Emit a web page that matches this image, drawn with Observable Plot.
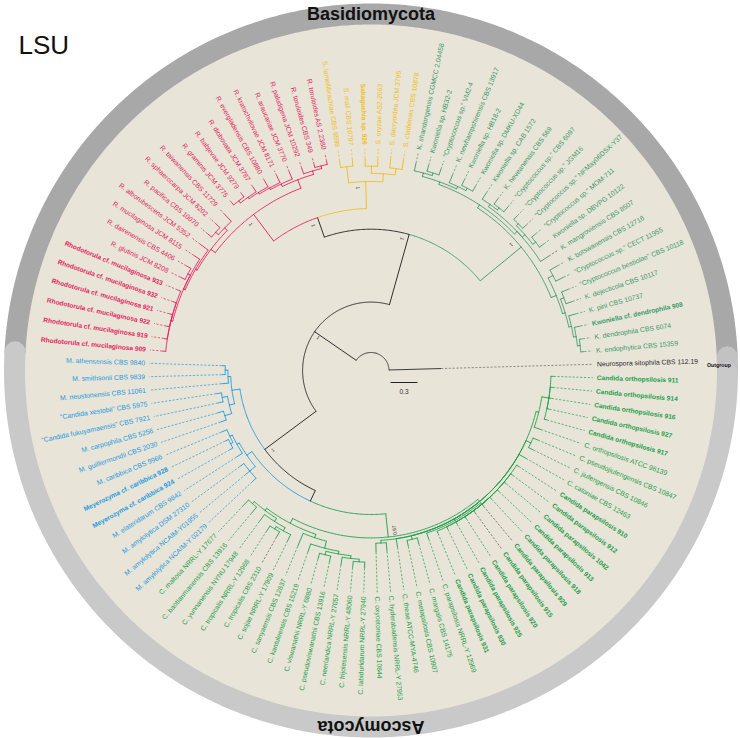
<!DOCTYPE html>
<html>
<head>
<meta charset="utf-8">
<script src="https://cdn.jsdelivr.net/npm/d3@7"></script>
<script src="https://cdn.jsdelivr.net/npm/@observablehq/plot@0.6"></script>
<style>
  html, body { margin: 0; padding: 0; background: #ffffff; }
  #chart { width: 740px; height: 738px; overflow: hidden; }
</style>
</head>
<body>
<div id="chart"></div>
<script>
// ---------------- DATA ----------------
// Leaf labels, in clockwise order starting just below the outgroup ("*" = own isolate, shown bold)
const outgroupLeaves = ["Neurospora sitophila CBS 112.19"];
const candidaLeaves = [
  "*Candida orthopsilosis 911", "*Candida orthopsilosis 914", "*Candida orthopsilosis 916",
  "*Candida orthopsilosis 927", "*Candida orthopsilosis 917", "C. orthopsilosis ATCC 96139",
  "C. pseudojiufengensis CBS 10847", "C. jiufengensis CBS 10846", "C. catoniae CBS 12463",
  "*Candida parapsilosis 910", "*Candida parapsilosis 912", "*Candida parapsilosis 1042",
  "*Candida parapsilosis 913", "*Candida parapsilosis 918", "*Candida parapsilosis 929",
  "*Candida parapsilosis 915", "*Candida parapsilosis 920", "*Candida parapsilosis 925",
  "*Candida parapsilosis 930", "*Candida parapsilosis 931", "C. parapsilosis NRRL-Y 12969",
  "C. margalis CBS 14175", "C. metapsilosis CBS 10907", "C. theae ATCC-MYA-4746",
  "C. hyderabadensis NRRL-Y 27953", "C. oxycetoniae CBS 10844", "C. labiduridarum NRRL-Y 27940",
  "C. frijolesensis NRRL-Y 48060", "C. neerlandica NRRL-Y 27057", "C. pseudoviswanathii CBS 13916",
  "C. viswanathii NRRL-Y 6880", "C. kantuleensis CBS 15219", "C. sanyaensis CBS 12637",
  "C. sojae NRRL-Y 17909", "C. tropicalis CBS 2310", "C. tropicalis NRRL-Y 12968",
  "C. yunnanensis NYNU 17948", "C. baotianmanensis CBS 13916", "C. maltosa NRRL-Y 17677"
];
const meyerozymaLeaves = [
  "M. amylolytica NCAIM-Y 02179", "M. amylolytica NCAIM-Y01955", "M. amylolytica DSM 27310",
  "M. elateridarum CBS 9842", "*Meyerozyma cf. caribbica 924", "*Meyerozyma cf. caribbica 928",
  "M. caribbica CBS 9966", "M. guilliermondii CBS 2030", "M. carpophila CBS 5256",
  "\u201cCandida fukuyamaensis\u201d CBS 7921", "\u201cCandida xestobii\u201d CBS 5975",
  "M. neustonensis CBS 11061", "M. smithsonii CBS 9839", "M. athensensis CBS 9840"
];
const rhodotorulaLeaves = [
  "*Rhodotorula cf. mucilaginosa 909", "*Rhodotorula cf. mucilaginosa 919", "*Rhodotorula cf. mucilaginosa 922",
  "*Rhodotorula cf. mucilaginosa 921", "*Rhodotorula cf. mucilaginosa 932", "*Rhodotorula cf. mucilaginosa 933",
  "R. glutinis JCM 8208", "R. dairenensis CBS 4406", "R. mucilaginosa JCM 8115", "R. alborubescens JCM 5352",
  "R. pacifica CBS 10070", "R. sphaerocarpa JCM 8202", "R. taiwanensis CBS 11729", "R. graminis JCM 3775",
  "R. babjevae JCM 9279", "R. diobovata JCM 3787", "R. evergladensis CBS 10880", "R. kratochvilovae JCM 8171",
  "R. araucariae JCM 3770", "R. paludigena JCM 10292", "R. toruloides CBS 349", "R. toruloides AS 2.2380"
];
const sporobolomycesLeaves = [
  "S. lamellibrachiae CBS 9598", "S. mali CBS 10797", "*Sakaguchia sp. 926",
  "S. oryzae AS2-2063", "S. dacryoidea JCM 3795", "S. cladiensis CBS 10878"
];
const kwoniellaLeaves = [
  "K. shandongensis CGMCC 2.04458", "Kwoniella sp. HB32-2", "\u201cCryptococcus sp.\u201d VM2-4",
  "K. newhampshirensis CBS 13917", "Kwoniella sp. HB18-2", "Kwoniella sp. DMKU-XD44",
  "Kwoniella sp. CAB 1572", "K. heveanensis CBS 569", "\u201cCryptococcus sp.\u201d CBS 6097",
  "\u201cCryptococcus sp.\u201d JGM16", "\u201cCryptococcus sp.\u201d NFMay06DSX-Y37",
  "\u201cCryptococcus sp.\u201d MOM-711", "Kwoniella sp. DBVPG 10122", "K. mangroviensis CBS 8507",
  "K. botswanensis CBS 12716", "\u201cCryptococcus sp.\u201d CECT 11955",
  "\u201cCryptococcus bestiolae\u201d CBS 10118", "K. dejecticola CBS 10117", "K. pini CBS 10737",
  "*Kwoniella cf. dendrophila 908", "K. dendrophila CBS 6074", "K. endophytica CBS 15359"
];
const darkLeaderLeaves = ["*Candida parapsilosis 929", "*Candida parapsilosis 915",
  "C. tropicalis CBS 2310", "K. mangroviensis CBS 8507"];

// Tree topology (leaf ids index the concatenated leaf list; branch lengths in subst./site)
const newickCandidaRight = "(((1:0.03,2:0.03,3:0.03,4:0.03,5:0.03):0.08,6:0.08):0.03,(7:0.06,8:0.06):0.06,9:0.09,((10:0.03,11:0.03,12:0.03,13:0.03,14:0.03,15:0.03,16:0.03,17:0.03,18:0.03,19:0.03,20:0.03):0.02,21:0.07):0.02,(22:0.07,23:0.07):0.04,24:0.1,(25:0.1,26:0.1):0.03):0.03";
const newickCandidaLeft = "((((((27:0.07,28:0.07):0.03,29:0.09):0.03,(30:0.07,31:0.07):0.04):0.03,32:0.1):0.08,33:0.16):0.04,(((34:0.08,(35:0.07,36:0.07):0.03):0.04,37:0.1):0.04,(38:0.09,39:0.09):0.03):0.03):0.06";
const newickMeyerozymaLower = "((40:0.06,41:0.06,42:0.06):0.08,(43:0.08,((44:0.04,45:0.04):0.03,46:0.07):0.03):0.03):0.07";
const newickMeyerozymaUpper = "(((47:0.07,48:0.07):0.08,(49:0.06,50:0.06):0.06):0.06,(51:0.08,(52:0.04,53:0.04):0.03):0.03):0.09";
const newickRhodoLower = "((((54:0.04,55:0.04,56:0.04,57:0.04,58:0.04,59:0.04):0.02,(60:0.06,61:0.06):0.03,62:0.08):0.02,63:0.11):0.02,((64:0.06,65:0.06):0.04,66:0.11):0.04):0.06";
const newickRhodoUpper = "((((((67:0.04,68:0.04):0.03,69:0.07):0.02,70:0.08):0.02,71:0.09):0.02,72:0.09):0.03,(73:0.07,(74:0.04,75:0.04):0.03):0.04):0.1";
const newickSporo = "((76:0.08,77:0.08):0.18,((78:0.09,79:0.09):0.08,(80:0.11,81:0.11):0.07):0.09)1:0.3";
const newickKwonUpper = "(((82:0.09,(83:0.07,84:0.07):0.03):0.04,(85:0.1,(86:0.07,87:0.07):0.03):0.03):0.03,((88:0.09,(89:0.07,90:0.07):0.03):0.03,((91:0.06,92:0.06):0.03,(93:0.06,94:0.06):0.04):0.04,95:0.11):0.04):0.04";
const newickKwonLower = "((96:0.1,97:0.1):0.06,((98:0.08,99:0.08):0.04,(100:0.09,(101:0.07,(102:0.04,103:0.04):0.03):0.03):0.03):0.03):0.06";
const newickBackbone = "(((((CR,CL)0.97:0.26,ML):0.13,MU)1:0.71,(((RL,RU)1:0.37,SP)1:0.23,(KU,KL)1:0.59)1:0.81)1:0.56,0:0.58)";
const rootDepth = 0.2;

// Outer ring (angles in degrees, clockwise from east)
const ringNames = ["Basidiomycota", "Outgroup", "Ascomycota"];
const ringStart = [183, 357.8, 0.4];
const ringEnd = [357.8, 360.4, 183];

const scaleBarLength = 0.3;

// ---------------- LAYOUT ----------------
const pxPerUnit = 27 / scaleBarLength;
const W = 740, H = 738, cx = 370.5, cy = 370;
const angleStart = 1.86, angleStep = 360 / 104;
const leaderEndR = 222 / pxPerUnit, labelR = 226 / pxPerUnit;
const ringR = 356.5 / pxPerUnit;

const cladeColor = {
  Outgroup: "#2a2a2a", Candida: "#1c9f4b", Meyerozyma: "#1d9ae0",
  Rhodotorula: "#e21f5d", Sporobolomyces: "#f2bd17", Kwoniella: "#3a9a6b"
};
const ringColor = {Basidiomycota: "#a8a8a8", Outgroup: "#c2c2c2", Ascomycota: "#c9c9c9"};

const leaves = [];
[["Outgroup", outgroupLeaves], ["Candida", candidaLeaves], ["Meyerozyma", meyerozymaLeaves],
 ["Rhodotorula", rhodotorulaLeaves], ["Sporobolomyces", sporobolomycesLeaves], ["Kwoniella", kwoniellaLeaves]]
  .forEach(([clade, arr]) => arr.forEach(n => leaves.push({
    raw: n, name: n.replace(/^\*/, ""), bold: n.startsWith("*"), clade
  })));

const newick = newickBackbone
  .replace("CR", newickCandidaRight).replace("CL", newickCandidaLeft)
  .replace("ML", newickMeyerozymaLower).replace("MU", newickMeyerozymaUpper)
  .replace("RL", newickRhodoLower).replace("RU", newickRhodoUpper)
  .replace("SP", newickSporo).replace("KU", newickKwonUpper).replace("KL", newickKwonLower);

function parseNewick(s) {
  let i = 0;
  function node() {
    const n = {children: []};
    if (s[i] === "(") {
      i++;
      n.children.push(node());
      while (s[i] === ",") { i++; n.children.push(node()); }
      i++; // ')'
    }
    let lab = "";
    while (i < s.length && !":,);".includes(s[i])) lab += s[i++];
    n.label = lab;
    n.length = 0;
    if (s[i] === ":") {
      i++;
      let num = "";
      while (i < s.length && !",);".includes(s[i])) num += s[i++];
      n.length = +num;
    }
    return n;
  }
  return node();
}

const root = parseNewick(newick);
let order = 0;
function layout(n, depth, parent) {
  n.r = depth; n.parent = parent;
  if (!n.children.length) {
    n.leaf = leaves[+n.label];
    n.theta = angleStart + angleStep * order++;
    n.clades = new Set([n.leaf.clade]);
  } else {
    n.children.forEach(c => layout(c, depth + c.length, n));
    n.theta = (n.children[0].theta + n.children[n.children.length - 1].theta) / 2;
    n.clades = new Set(n.children.flatMap(c => [...c.clades]));
  }
  n.color = n.clades.size === 1 ? cladeColor[[...n.clades][0]] : "#1b1b1b";
}
layout(root, rootDepth, null);

const nodes = [];
(function walk(n) { nodes.push(n); n.children.forEach(walk); })(root);

const rad = d => d * Math.PI / 180;
const X = (r, t) => r * Math.cos(rad(t));
const Y = (r, t) => r * Math.sin(rad(t));

// arcs
const arcPts = [];
let arcId = 0;
nodes.filter(n => n.children.length).forEach(n => {
  n.children.forEach(c => {
    const a0 = n.theta, a1 = c.theta;
    const steps = Math.max(2, Math.ceil(Math.abs(a1 - a0) / 0.5));
    for (let k = 0; k <= steps; k++) {
      const t = a0 + (a1 - a0) * k / steps;
      arcPts.push({x: X(n.r, t), y: Y(n.r, t), id: arcId, color: c.color});
    }
    arcId++;
  });
});
// stems
const stems = nodes.filter(n => n.parent).map(n => ({
  x1: X(n.parent.r, n.theta), y1: Y(n.parent.r, n.theta),
  x2: X(n.r, n.theta), y2: Y(n.r, n.theta), color: n.color
}));
// leaders & labels
const leafNodes = nodes.filter(n => !n.children.length);
const leaders = leafNodes.filter(n => n.r < leaderEndR).map(n => ({
  x1: X(n.r, n.theta), y1: Y(n.r, n.theta),
  x2: X(leaderEndR, n.theta), y2: Y(leaderEndR, n.theta),
  color: darkLeaderLeaves.includes(n.leaf.raw) ? "#555555" :
         (n.leaf.clade === "Outgroup" ? "#666666" : n.color)
}));
const labelRows = leafNodes.map(n => {
  const t = ((n.theta % 360) + 360) % 360;
  const left = t > 90 && t < 270;
  return {
    x: X(labelR, t), y: Y(labelR, t), rotate: left ? t - 180 : t,
    text: n.leaf.name, color: n.color, bold: n.leaf.bold, left
  };
});
// support values
const supportRows = nodes.filter(n => n.children.length && n.label).map(n => ({
  x: X(n.r - 6 / pxPerUnit, n.theta - 2.5), y: Y(n.r - 6 / pxPerUnit, n.theta - 2.5),
  text: n.label, rotate: n.theta + 180
}));
// ring
const ringPts = [];
ringNames.forEach((nm, i) => {
  const a0 = ringStart[i], a1 = ringEnd[i];
  const steps = Math.ceil(Math.abs(a1 - a0) / 0.5);
  for (let k = 0; k <= steps; k++) {
    const t = a0 + (a1 - a0) * k / steps;
    ringPts.push({x: X(ringR, t), y: Y(ringR, t), seg: nm, color: ringColor[nm]});
  }
});
const ringLabelRows = [
  {text: ringNames[0], t: 270, r: ringR, rotate: 0},
  {text: ringNames[2], t: 90, r: ringR, rotate: 180}
].map(d => ({...d, x: X(d.r, d.t), y: Y(d.r, d.t)}));
const outMid = (ringStart[1] + ringEnd[1]) / 2;
const outgroupRow = [{text: ringNames[1], x: X(348 / pxPerUnit, outMid), y: Y(348 / pxPerUnit, outMid)}];

const scaleX0 = 19.5 / pxPerUnit, scaleY0 = 12 / pxPerUnit;
const scaleRows = [{x1: scaleX0, x2: scaleX0 + scaleBarLength, y1: scaleY0, y2: scaleY0, label: String(scaleBarLength)}];

const labelMarks = [];
for (const left of [false, true]) for (const bold of [false, true]) {
  labelMarks.push(Plot.text(labelRows.filter(d => d.left === left && d.bold === bold), {
    x: "x", y: "y", text: "text", rotate: "rotate", fill: "color",
    textAnchor: left ? "end" : "start", fontSize: bold ? 6.6 : 6.85, fontWeight: bold ? "bold" : "normal",
    ariaLabel: "leaf label"
  }));
}

const chart = Plot.plot({
  width: W, height: H, margin: 0,
  x: {domain: [-cx / pxPerUnit, (W - cx) / pxPerUnit], axis: null},
  y: {domain: [(H - cy) / pxPerUnit, -cy / pxPerUnit], axis: null},
  style: {fontFamily: "'Liberation Sans', Arial, sans-serif", background: "transparent", overflow: "visible"},
  marks: [
    Plot.dot([{x: 0, y: 0}], {x: "x", y: "y", r: 347, fill: "#e8e4d8", stroke: "none"}),
    Plot.line(ringPts, {x: "x", y: "y", z: "seg", stroke: "color", strokeWidth: 21}),
    Plot.text(ringLabelRows, {x: "x", y: "y", text: "text", rotate: "rotate", fontSize: 18, fontWeight: "bold", fill: "#111"}),
    Plot.text(outgroupRow, {x: "x", y: "y", text: "text", fontSize: 5.3, fontWeight: "bold", fill: "#111"}),
    Plot.line(arcPts, {x: "x", y: "y", z: "id", stroke: "color", strokeWidth: 0.9}),
    Plot.link(stems, {x1: "x1", y1: "y1", x2: "x2", y2: "y2", stroke: "color", strokeWidth: 0.9}),
    Plot.link(leaders, {x1: "x1", y1: "y1", x2: "x2", y2: "y2", stroke: "color", strokeWidth: 0.7, strokeDasharray: "2.2,1.6"}),
    ...labelMarks,
    Plot.text(supportRows, {x: "x", y: "y", text: "text", rotate: "rotate", fontSize: 5, fill: "#333"}),
    Plot.link(scaleRows, {x1: "x1", y1: "y1", x2: "x2", y2: "y2", stroke: "#222", strokeWidth: 1}),
    Plot.text(scaleRows, {x: d => (d.x1 + d.x2) / 2, y: d => d.y1 + 9 / pxPerUnit, text: "label", fontSize: 6.5, fill: "#333"}),
    Plot.text(["LSU"], {frameAnchor: "top-left", dx: 18, dy: 35, text: d => d, fontSize: 26, textAnchor: "start", fill: "#111"})
  ]
});

// italicise genus / species epithets inside leaf labels
const SVGNS = "http://www.w3.org/2000/svg";
chart.querySelectorAll('g[aria-label="leaf label"] text').forEach(el => {
  const words = el.textContent.split(" ");
  el.textContent = "";
  let italicMode = true;
  words.forEach((w, i) => {
    const core = w.replace(/[\u201c\u201d"]/g, "");
    let it = false;
    if (italicMode) {
      if (core === "sp." || core === "cf.") it = false;
      else if (/^[A-Z][a-z]*\.?$/.test(core) || /^[a-z]+$/.test(core)) it = true;
      else italicMode = false;
    }
    const t = document.createElementNS(SVGNS, "tspan");
    if (it) t.setAttribute("font-style", "italic");
    t.textContent = (i ? " " : "") + w;
    el.appendChild(t);
  });
});

document.getElementById("chart").appendChild(chart);
</script>
</body>
</html>
